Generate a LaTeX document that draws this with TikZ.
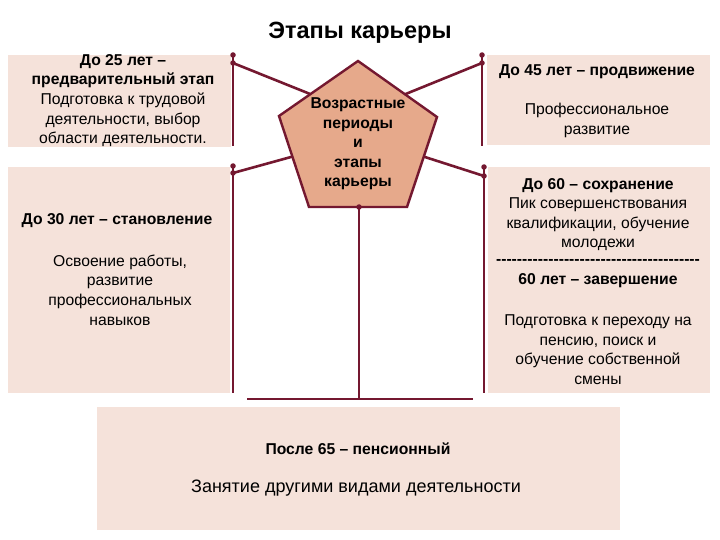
\documentclass[tikz,border=0pt]{standalone}
\usepackage{fontspec}
\setmainfont{Liberation Sans}
\definecolor{boxfill}{HTML}{F5E2DA}
\definecolor{pentfill}{HTML}{E6A98B}
\definecolor{linec}{HTML}{741830}
\newcommand{\dashrow}{\foreach \i in {1,...,39}{-\kern0pt}}
\begin{document}
\begin{tikzpicture}[x=1pt,y=-1pt,
  box/.style={fill=boxfill, draw=none, inner sep=0pt},
  txt/.style={align=center, inner sep=0pt, font=\fontsize{15.7}{19.6}\selectfont},
  hd/.style={align=center, inner sep=0pt, font=\fontsize{15.7}{19.6}\selectfont\bfseries},
  conn/.style={draw=linec, line width=2.6pt},
  dotc/.style={circle, fill=linec, inner sep=0pt, minimum size=5.5pt}]
\useasboundingbox (0,0) rectangle (720,540);
\fill[white] (0,0) rectangle (720,540);

% title
\node[inner sep=0pt, font=\fontsize{23.5}{26}\selectfont\bfseries] (title) at (360,33) {Этапы карьеры};

% boxes
\node[box, minimum width=223pt, minimum height=92pt] (b1) at (119.5,101) {};
\node[box, minimum width=222pt, minimum height=226pt] (b2) at (119,280) {};
\node[box, minimum width=223pt, minimum height=90pt] (b3) at (598.5,100) {};
\node[box, minimum width=222pt, minimum height=226pt] (b4) at (599,280) {};
\node[box, minimum width=523pt, minimum height=123pt] (b5) at (358.5,468.5) {};

% coordinates for connectors
\coordinate (lt0) at (233,55);  \coordinate (lt1) at (233,63);  \coordinate (lt2) at (233,146);
\coordinate (rt0) at (482,55);  \coordinate (rt1) at (482,63);  \coordinate (rt2) at (482,146);
\coordinate (lb0) at (233,166); \coordinate (lb1) at (233,173); \coordinate (lb2) at (233,393);
\coordinate (rb0) at (484,167); \coordinate (rb1) at (484,176); \coordinate (rb2) at (484,393);
\coordinate (pt1) at (330,102); \coordinate (pt2) at (386,102);
\coordinate (pt3) at (320,149); \coordinate (pt4) at (400,149);
\coordinate (pb) at (359,207);  \coordinate (pb2) at (359,399);
\coordinate (hl) at (247,399);  \coordinate (hr) at (473,399);

\draw[conn] (lt0) -- (lt2);
\draw[conn] (rt0) -- (rt2);
\draw[conn] (lb0) -- (lb2);
\draw[conn] (rb0) -- (rb2);
\draw[conn] (lt1) -- (pt1);
\draw[conn] (rt1) -- (pt2);
\draw[conn] (lb1) -- (pt3);
\draw[conn] (rb1) -- (pt4);
\draw[conn] (pb) -- (pb2);
\draw[conn] (hl) -- (hr);

% pentagon
\coordinate (pa) at (358,61);
\coordinate (pur) at (437,117);
\coordinate (pbr) at (407,207);
\coordinate (pbl) at (309,207);
\coordinate (pul) at (279,116);
\draw[fill=pentfill, draw=linec, line width=2.4pt, line join=miter] (pa) -- (pur) -- (pbr) -- (pbl) -- (pul) -- cycle;
\node[hd, font=\fontsize{15.7}{19.5}\selectfont\bfseries] (pent) at (358,144) {Возрастные\\периоды\\и\\этапы\\карьеры};

% dots
\foreach \c in {lt0,lt1,rt0,rt1,lb0,lb1,rb0,rb1,pb}
  \node[dotc] at (\c) {};

% texts
\node[txt, font=\fontsize{15.7}{19.7}\selectfont] (t1) at (123,100.5)
  {\textbf{До 25 лет –}\\\textbf{предварительный этап}\\Подготовка к трудовой\\деятельности, выбор\\области деятельности.};

\node[hd] (t2h) at (117,221) {До 30 лет – становление};
\node[txt] (t2b) at (120,290) {Освоение работы,\\развитие\\профессиональных\\навыков};

\node[hd] (t3h) at (597,72) {До 45 лет – продвижение};
\node[txt, font=\fontsize{15.7}{20}\selectfont] (t3b) at (597,120) {Профессиональное\\развитие};

\node[txt] (t4a) at (598,214.5) {\textbf{До 60 – сохранение}\\Пик совершенствования\\квалификации, обучение\\молодежи};
\node[hd] (t4d) at (598,262) {\dashrow};
\node[hd] (t4h) at (598,281) {60 лет – завершение};
\node[txt] (t4b) at (598,349.5) {Подготовка к переходу на\\пенсию, поиск и\\обучение собственной\\смены};

\node[hd] (t5h) at (358,449) {После 65 – пенсионный};
\node[txt, font=\fontsize{18}{20}\selectfont] (t5b) at (356,488) {Занятие другими видами деятельности};
\end{tikzpicture}
\end{document}
